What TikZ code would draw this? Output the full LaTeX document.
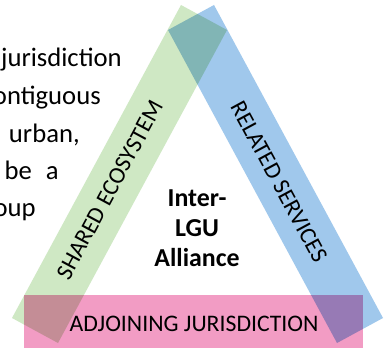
\documentclass[tikz,border=0pt]{standalone}
\usepackage{fontspec}
\setmainfont{Carlito}
\usetikzlibrary{calc}

\definecolor{ecogreen}{RGB}{207,232,196}
\definecolor{serviceblue}{RGB}{160,200,236}
\definecolor{adjoinpink}{RGB}{242,156,196}

\tikzset{
    band/.style={blend mode=multiply},
    slidetext/.style={anchor=base east, inner sep=0pt, font=\fontsize{20}{23}\selectfont},
    bandtext/.style={inner sep=0pt, font=\fontsize{17.8}{20}\selectfont},
    hubtext/.style={anchor=base, inner sep=0pt, font=\fontsize{19.4}{23}\selectfont\bfseries}
}

\begin{document}
\begin{tikzpicture}[x=0.75pt, y=-0.75pt]
    \fill[white] (0, 0) rectangle (384, 348);
    \useasboundingbox (0, 0) rectangle (384, 348);

    % text of the slide behind the triangle
    \node[slidetext] (line1) at (122, 67) {jurisdiction};
    \node[slidetext] (line2) at (101, 105) {ontiguous};
    \node[slidetext] (line3) at (80, 143) {urban,};
    \node[slidetext] (line4) at (59, 180) {be\hspace{0.3em} a};
    \node[slidetext] (line5) at (36, 217) {oup};

    % corners of the three bands
    \coordinate (g1) at (12, 318);
    \coordinate (g2) at (58, 343);
    \coordinate (g3) at (227, 30);
    \coordinate (g4) at (181, 5);

    \coordinate (b1) at (214, 5);
    \coordinate (b2) at (168, 30);
    \coordinate (b3) at (337, 343);
    \coordinate (b4) at (383, 318);

    \coordinate (p1) at (24, 295);
    \coordinate (p2) at (363, 348);

    \fill[ecogreen, band] (g1) -- (g2) -- (g3) -- (g4) -- cycle;
    \fill[serviceblue, band] (b1) -- (b2) -- (b3) -- (b4) -- cycle;
    \fill[adjoinpink, band] (p1) rectangle (p2);

    \node[bandtext, rotate=61.6] (eco) at (110, 190) {SHARED ECOSYSTEM};
    \node[bandtext, rotate=-61.6] (services) at (279, 182) {RELATED SERVICES};
    \node[bandtext] (adjoin) at (194, 323.5) {ADJOINING JURISDICTION};

    \node[hubtext] (inter) at (197, 207) {Inter-};
    \node[hubtext] (lgu) at (197, 237) {LGU};
    \node[hubtext] (alliance) at (197, 267) {Alliance};
\end{tikzpicture}
\end{document}
